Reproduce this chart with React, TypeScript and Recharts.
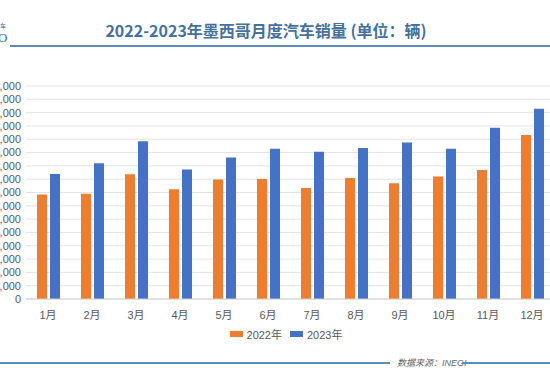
import React from 'react';
import { BarChart, Bar, XAxis, YAxis, CartesianGrid, Legend } from 'recharts';

const months = ['1月', '2月', '3月', '4月', '5月', '6月', '7月', '8月', '9月', '10月', '11月', '12月'];
const sales2022 = [78460, 79042, 93786, 82516, 89788, 90067, 83376, 90892, 86882, 92098, 96931, 123213];
const sales2023 = [93939, 101993, 118502, 97360, 106296, 112920, 110587, 113459, 117514, 112904, 128581, 142940];
const yTicks = [0, 10000, 20000, 30000, 40000, 50000, 60000, 70000, 80000, 90000, 100000, 110000, 120000, 130000, 140000, 150000, 160000];

const ORANGE = '#ed7d31';
const BLUE = '#4472c4';
const LINE = '#5b8cc0';
const FONT = "'Liberation Sans', 'Noto Sans CJK SC', sans-serif";

const chartData = months.map((m, i) => ({ month: m, y2022: sales2022[i], y2023: sales2023[i] }));

const LegendBox = () => (
    <div style={{ display: 'flex', justifyContent: 'center', alignItems: 'center', gap: 4, fontSize: 11, color: '#595959', fontFamily: FONT, paddingLeft: 52 }}>
        <span style={{ display: 'inline-block', width: 13, height: 6, background: ORANGE }} />
        <span style={{ marginRight: 4 }}>2022年</span>
        <span style={{ display: 'inline-block', width: 13, height: 6, background: BLUE }} />
        <span>2023年</span>
    </div>
);

export default function App() {
    return (
        <div style={{ position: 'fixed', left: 0, top: 0, width: 550, height: 378, overflow: 'hidden', background: '#fff' }}>
            {/* cropped logo at top-left */}
            <div style={{ position: 'absolute', left: 0, top: 22, fontSize: 6, color: '#3e6d9c', fontFamily: "'Noto Sans CJK SC'", lineHeight: '7px' }}>车</div>
            <div style={{ position: 'absolute', left: -2, top: 31, fontSize: 13, color: '#3e6d9c', fontFamily: 'serif', lineHeight: '13px' }}>O</div>

            <div style={{ position: 'absolute', left: 0, width: 532, top: 18, textAlign: 'center', fontSize: 16, fontWeight: 700, color: '#44719f', fontFamily: "'Noto Sans CJK SC', sans-serif", lineHeight: '24px' }}>
                2022-2023年墨西哥月度汽车销量 (单位：辆)
            </div>
            <div style={{ position: 'absolute', left: 10, top: 45, width: 540, height: 2, background: LINE }} />

            <div style={{ position: 'absolute', left: -34, top: 70 }}>
                <BarChart
                    width={588}
                    height={282}
                    data={chartData}
                    margin={{ top: 16, right: 0, bottom: 0, left: 0 }}
                    barGap={3}
                    barSize={10}
                >
                    <CartesianGrid vertical={false} stroke="#e3e3e3" />
                    <XAxis
                        dataKey="month"
                        height={27}
                        tickLine={false}
                        axisLine={{ stroke: '#d0d0d0' }}
                        tick={{ fontSize: 11, fill: '#595959', fontFamily: FONT }}
                        tickMargin={6}
                        interval={0}
                    />
                    <YAxis
                        width={60}
                        domain={[0, 160000]}
                        ticks={yTicks}
                        interval={0}
                        axisLine={false}
                        tickLine={false}
                        tickSize={3}
                        tickMargin={2}
                        tick={{ fontSize: 11, fill: '#595959', fontFamily: FONT }}
                        tickFormatter={(v: number) => v.toLocaleString('en-US')}
                    />
                    <Legend verticalAlign="bottom" height={26} content={() => <LegendBox />} />
                    <Bar dataKey="y2022" name="2022年" fill={ORANGE} isAnimationActive={false} />
                    <Bar dataKey="y2023" name="2023年" fill={BLUE} isAnimationActive={false} />
                </BarChart>
            </div>

            <div style={{ position: 'absolute', left: 0, top: 362, width: 390, height: 2, background: LINE }} />
            <div style={{ position: 'absolute', left: 397, top: 356, fontSize: 9, fontStyle: 'italic', color: '#666', fontFamily: FONT, lineHeight: '14px' }}>
                数据来源：INEGI
            </div>
            <div style={{ position: 'absolute', left: 462, top: 362, width: 88, height: 2, background: LINE }} />
        </div>
    );
}
